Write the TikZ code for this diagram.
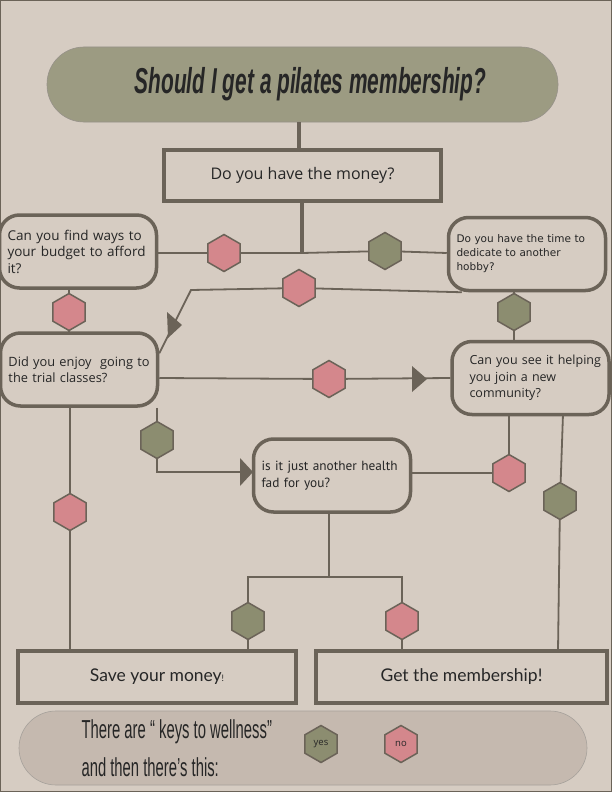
\documentclass[tikz,border=0pt]{standalone}
\usepackage{fontspec}
\setmainfont{Open Sans}
\newfontfamily\titlefont[FakeStretch=0.58]{Liberation Sans}
\newfontfamily\keysfont[FakeStretch=0.57]{Liberation Sans}
\newfontfamily\hobbyfont{DejaVu Sans}
\newfontfamily\fadfont{PT Sans}
\newfontfamily\endfont{Lato}
\usetikzlibrary{positioning}
\usetikzlibrary{shapes.geometric}
\definecolor{paper}{HTML}{D6CCC2}
\definecolor{ink}{HTML}{6B6358}
\definecolor{olive}{HTML}{9C9B82}
\definecolor{keybg}{HTML}{C5B9AF}
\definecolor{nohex}{HTML}{D4878C}
\definecolor{yeshex}{HTML}{8C8D70}
\definecolor{txt}{HTML}{262626}
\tikzset{question/.style={rectangle,rounded corners=20pt,draw=ink,line width=3.5pt,fill=paper,
    text width=141pt,inner xsep=8pt,minimum height=73pt,align=left,text=txt,font=\fontsize{12.5}{16.5}\selectfont},
  box/.style={rectangle,draw=ink,line width=3.5pt,fill=paper,text=txt},
  hex/.style={regular polygon,regular polygon sides=6,shape border rotate=30,minimum size=37pt,
    inner sep=0pt,draw=ink,line width=1.5pt,text=txt,font=\fontsize{9.5}{10}\selectfont},
  yes/.style={hex,fill=yeshex},
  no/.style={hex,fill=nohex},
  link/.style={draw=ink,line width=1.8pt},
  trunk/.style={draw=ink,line width=3.5pt},
}

\begin{document}
\begin{tikzpicture}[x=1pt,y=-1pt]
    \useasboundingbox (0,0) rectangle (612,792);
    \fill[paper] (0,0) rectangle (612,792);
    \draw[ink,line width=1pt] (0.5,0.5) rectangle (611.5,791.5);

    % title and first question
    \node[rectangle,rounded corners=37pt,draw=ink!70,line width=0.6pt,fill=olive,minimum width=511pt,minimum height=75pt,
      font=\titlefont\bfseries\itshape\fontsize{36}{40}\selectfont,text=txt] (title) at (302.5,84.5) {\hspace{16pt}Should I get a pilates membership?};
    \node[box,minimum width=277pt,minimum height=51pt,font=\fontsize{16}{18}\selectfont] (money) at (302.5,175.5) {Do you have the money?};

    % questions
    \node[question,font=\fontsize{13.5}{16.5}\selectfont] (budget) at (78,251.5) {\mbox{Can you find ways to}\\\mbox{your budget to afford}\\it?};
    \node[question,font=\hobbyfont\fontsize{10.5}{14}\selectfont] (hobby) at (527,254) {\mbox{Do you have the time to}\\dedicate to another\\hobby?};
    \node[question,font=\fontsize{12.8}{16.5}\selectfont] (enjoy) at (79,369.5) {\mbox{Did you enjoy\ \ going to}\\\mbox{the trial classes?}};
    \node[question,text width=122pt,inner xsep=17.5pt] (community) at (530.5,378) {\mbox{Can you see it helping}\\you join a new\\community?};
    \node[question,font=\fadfont\fontsize{13.3}{17}\selectfont] (fad) at (332,475.5) {\mbox{is it just another health}\\fad for you?};

    % answers
    \node[box,minimum width=278pt,minimum height=52pt,font=\endfont\fontsize{17.5}{20}\selectfont] (save) at (157,677) {Save your money{\fontsize{9}{10}\selectfont!}\hspace{24pt}};
    \node[box,minimum width=291pt,minimum height=52pt,font=\endfont\fontsize{17.5}{20}\selectfont] (member) at (461.5,677) {Get the membership!};

    % hexagons on the connectors
    \node[no]  (hA) at (224,253) {};
    \node[yes] (hB) at (385,251) {};
    \node[no]  (hC) at (299,288) {};
    \node[no]  (hD) at (69,312) {};
    \node[yes] (hE) at (514,312) {};
    \node[no]  (hF) at (329,379) {};
    \node[yes] (hG) at (157,440) {};
    \node[no]  (hH) at (70,512) {};
    \node[no]  (hI) at (509,473) {};
    \node[yes] (hJ) at (560,501) {};
    \node[yes] (hK) at (248,621) {};
    \node[no]  (hL) at (402,621) {};

    \coordinate (split) at (302,253);
    \coordinate (bend) at (191,290);
    \coordinate (fork) at (329,577);

    \path[trunk] (title.south -| 299,0) -- (money.north -| 299,0);
    \path[trunk] (money.south -| split) -- (split);
    \path[link] (split) -- (hA) -- (budget.east |- split);
    \path[link] (split) -- (hB) -- (hobby.west |- split);
    \path[link] (hobby.south west) ++(15,0) -- (hC) -- (bend) -- ([yshift=-22pt]enjoy.north east);
    \path[link] (hD |- budget.south) -- (hD) -- (hD |- enjoy.north);
    \path[link] (hE |- hobby.south) -- (hE) -- (hE |- community.north);
    \path[link] (enjoy.east |- community.west) -- (hF) -- (community.west);
    \path[link] (hG |- enjoy.south) -- (hG) |- (fad.west |- 0,472);
    \path[link] (hH |- enjoy.south) -- (hH) -- (hH |- save.north);
    \path[link] (hI |- community.south) -- (hI) -- (fad.east |- hI);
    \path[link] (563,414) -- (hJ) -- (558,651);
    \path[link] (fork |- fad.south) -- (fork) -| (hK) -- (hK |- save.north);
    \path[link] (fork) -| (hL) -- (hL |- member.north);

    % arrow heads
    \fill[ink] (167,312) -- (182,325) -- (168,338) -- cycle;
    \fill[ink] (412,366) -- (427,379) -- (412,392) -- cycle;
    \fill[ink] (240,458) -- (253,472) -- (240,486) -- cycle;

    % key
    \node[rectangle,rounded corners=37pt,draw=ink!60,line width=0.6pt,fill=keybg,minimum width=568pt,minimum height=74pt] (key) at (303,748) {};
    \node[anchor=west,align=left,text=txt,font=\keysfont\fontsize{26}{38}\selectfont] (keytext) at (78,748) {There are\,“ keys to wellness”\\and then there’s this:};
    \node[yes] (kyes) at (321,744) {yes};
    \node[no] (kno) at (401,744) {no};
\end{tikzpicture}
\end{document}
